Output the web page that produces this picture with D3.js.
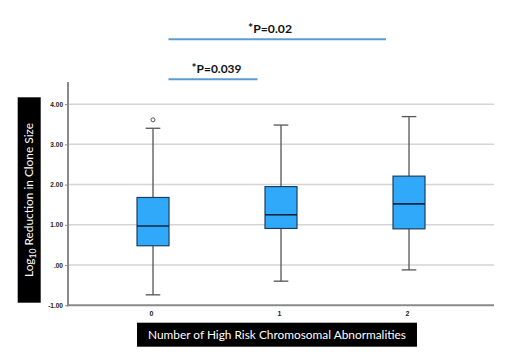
<!DOCTYPE html>
<html><head><meta charset="utf-8">
<script src="https://cdn.jsdelivr.net/npm/d3@7"></script>
<style>body{margin:0;background:#fff}svg{display:block}</style>
</head><body>
<script>
const categories = ["0","1","2"];
const q1 = [0.48, 0.91, 0.90];
const medians = [0.97, 1.25, 1.52];
const q3 = [1.68, 1.95, 2.21];
const whiskerLow = [-0.74, -0.40, -0.12];
const whiskerHigh = [3.40, 3.48, 3.69];
const outliers = [[3.61], [], []];
const yTicks = [-1, 0, 1, 2, 3, 4];
const yTickLabels = ["-1.00", ".00", "1.00", "2.00", "3.00", "4.00"];
const comparisons = [
  {from: "0", to: "2", label: "P=0.02"},
  {from: "0", to: "1", label: "P=0.039"}
];

const W = 520, H = 362;
const svg = d3.select("body").append("svg").attr("width", W).attr("height", H);
const pL = 68, pR = 494, pT = 82, pB = 305.3;

function fitWidth(sel, target) {
  const w = sel.node().getComputedTextLength();
  const fs = parseFloat(sel.attr("font-size"));
  if (w > 0) sel.attr("font-size", fs * target / w);
}

const x = d3.scalePoint().domain(categories).range([pL, pR]).padding(0.664);
const y = d3.scaleLinear().domain([-1, 4.55]).range([pB, pT]);

// gridlines
svg.append("g").selectAll("line").data(yTicks.filter(d => d !== -1)).join("line")
  .attr("x1", pL).attr("x2", pR)
  .attr("y1", d => y(d)).attr("y2", d => y(d))
  .attr("stroke", "#d4d4d4").attr("stroke-width", 1.5);

// y axis
const yAxis = d3.axisLeft(y).tickValues(yTicks).tickFormat((d, i) => yTickLabels[i]).tickSize(3).tickPadding(2);
const ga = svg.append("g").attr("transform", `translate(${pL},0)`).call(yAxis);
ga.select(".domain").remove();
ga.selectAll(".tick line").attr("stroke", "#888");
ga.selectAll(".tick text").attr("font-family", "'Liberation Sans', Arial, sans-serif")
  .attr("font-size", 6.5).attr("font-weight", "bold").attr("fill", "#222");
svg.append("line").attr("x1", pL).attr("x2", pL).attr("y1", pT).attr("y2", pB + 1)
  .attr("stroke", "#8a8a8a").attr("stroke-width", 2);

// x axis
svg.append("line").attr("x1", pL - 1).attr("x2", pR).attr("y1", pB).attr("y2", pB)
  .attr("stroke", "#8a8a8a").attr("stroke-width", 2);
const xAxis = d3.axisBottom(x).tickSize(0).tickPadding(6);
const gx = svg.append("g").attr("transform", `translate(0,${pB})`).call(xAxis);
gx.select(".domain").remove();
gx.selectAll(".tick text").attr("font-family", "'Liberation Sans', Arial, sans-serif")
  .attr("font-size", 7).attr("font-weight", "bold").attr("fill", "#222").attr("dx", -2);

// boxes
const boxW = 32, capW = 14.6;
const data = categories.map((c, i) => ({c, q1: q1[i], med: medians[i], q3: q3[i], lo: whiskerLow[i], hi: whiskerHigh[i], out: outliers[i]}));
const g = svg.append("g");
data.forEach(d => {
  const cx = x(d.c);
  const wc = "#555";
  g.append("line").attr("x1", cx).attr("x2", cx).attr("y1", y(d.hi)).attr("y2", y(d.q3)).attr("stroke", wc).attr("stroke-width", 1.3);
  g.append("line").attr("x1", cx).attr("x2", cx).attr("y1", y(d.q1)).attr("y2", y(d.lo)).attr("stroke", wc).attr("stroke-width", 1.3);
  g.append("line").attr("x1", cx - capW/2).attr("x2", cx + capW/2).attr("y1", y(d.hi)).attr("y2", y(d.hi)).attr("stroke", wc).attr("stroke-width", 1.3);
  g.append("line").attr("x1", cx - capW/2).attr("x2", cx + capW/2).attr("y1", y(d.lo)).attr("y2", y(d.lo)).attr("stroke", wc).attr("stroke-width", 1.3);
  g.append("rect").attr("x", cx - boxW/2).attr("y", y(d.q3)).attr("width", boxW).attr("height", y(d.q1) - y(d.q3))
    .attr("fill", "#31a9fb").attr("stroke", "#1d3f5e").attr("stroke-width", 1.2);
  g.append("line").attr("x1", cx - boxW/2).attr("x2", cx + boxW/2).attr("y1", y(d.med)).attr("y2", y(d.med))
    .attr("stroke", "#0d2740").attr("stroke-width", 1.6);
  d.out.forEach(o => {
    g.append("circle").attr("cx", cx).attr("cy", y(o)).attr("r", 2).attr("fill", "#fff").attr("stroke", "#555").attr("stroke-width", 1);
  });
});

// significance lines
const sigY = [39.3, 79.3];
const sigTextX = [270, 216.5];
const sigTextW = [44, 50];
comparisons.forEach((c, i) => {
  const x1 = x(c.from) + 15.5, x2 = x(c.to) + (c.to === "2" ? -23 : -23.5);
  const yy = sigY[i];
  svg.append("line").attr("x1", x1).attr("x2", x2).attr("y1", yy).attr("y2", yy)
    .attr("stroke", "#5b9bd5").attr("stroke-width", 2);
  const t = svg.append("text").attr("x", sigTextX[i]).attr("y", yy - 6)
    .attr("text-anchor", "middle").attr("font-family", "Lato, 'Liberation Sans', Arial, sans-serif")
    .attr("font-weight", "bold").attr("font-size", 12).attr("fill", "#111");
  t.append("tspan").attr("dy", -1.5).text("*");
  t.append("tspan").attr("dy", 1.5).text(c.label);
  fitWidth(t, sigTextW[i]);
});

// y axis title box
svg.append("rect").attr("x", 17.7).attr("y", 97.3).attr("width", 23).attr("height", 205.4).attr("fill", "#000");
const yt = svg.append("text").attr("transform", `translate(33.3,200) rotate(-90)`).attr("text-anchor", "middle")
  .attr("font-family", "Lato, 'Open Sans', sans-serif").attr("font-size", 11).attr("fill", "#fff");
yt.append("tspan").text("Log");
yt.append("tspan").attr("font-size", "0.72em").attr("dy", 2.5).text("10");
yt.append("tspan").attr("dy", -2.5).text(" Reduction in Clone Size");
fitWidth(yt, 154);

// x axis title box
svg.append("rect").attr("x", 137).attr("y", 322.7).attr("width", 280).attr("height", 24).attr("fill", "#000");
const xt = svg.append("text").attr("x", 277).attr("y", 338.6).attr("text-anchor", "middle")
  .attr("font-family", "Lato, 'Open Sans', sans-serif").attr("font-size", 11).attr("fill", "#fff")
  .text("Number of High Risk Chromosomal Abnormalities");
fitWidth(xt, 258);
</script>
</body></html>
